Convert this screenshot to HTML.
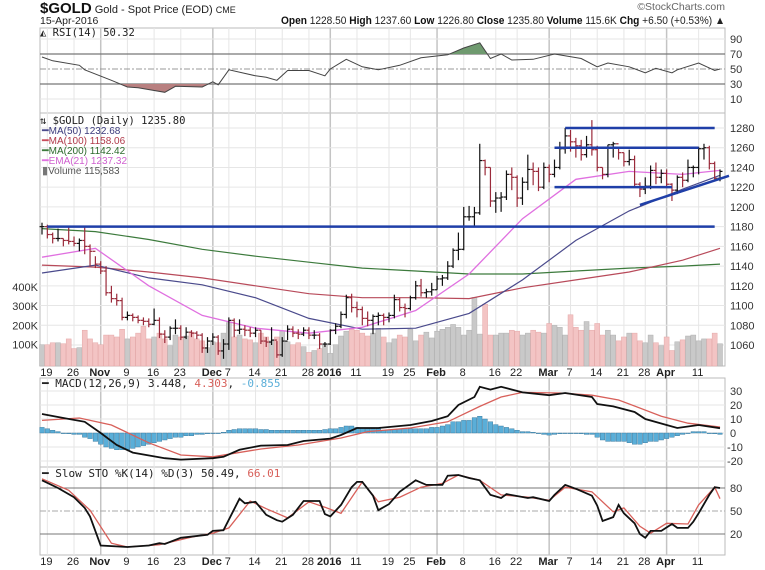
<!DOCTYPE html>
<html><head><meta charset="utf-8">
<style>
html,body{margin:0;padding:0;background:#fff;width:765px;height:570px;overflow:hidden}
svg{display:block;font-family:"Liberation Sans",sans-serif}
</style></head>
<body>
<svg id="c" width="765" height="570" viewBox="0 0 765 570" xmlns="http://www.w3.org/2000/svg"></svg>
<script>
// ---- data ----
const closes=[1180,1172,1168,1168,1166,1165,1163,1166,1160,1155,1142,
1135,1113,1107,1105,1088,1090,1088,1085,1084,1081,1085,1071,1068,1077,1077,1068,1073,1072,1070,1057,1064,
1068,1054,1061,1085,1075,1076,1075,1072,1075,1064,1063,1065,1050,1064,1076,1072,1071,1075,1070,1070,1061,1061,
1075,1079,1091,1108,1098,1096,1087,1085,1089,1090,1088,1090,1106,1098,1097,1108,1120,1113,1114,1116,
1127,1128,1140,1156,1157,1190,1190,1194,1247,1240,1206,1209,1210,1233,1230,1209,1225,1238,1236,1220,1240,
1233,1240,1259,1272,1266,1262,1253,1263,1258,1240,1233,1263,1264,1255,1246,1248,1223,1218,1221,1237,1230,1234,
1223,1217,1230,1227,1240,1240,1259,1260,1244,1229,1236];
const highs=[1184,1182,1174,1178,1168,1180,1170,1168,1180,1162,1150,
1145,1140,1120,1112,1108,1094,1092,1090,1088,1087,1097,1088,1075,1079,1086,1080,1078,1075,1074,1072,1068,
1072,1070,1066,1088,1087,1086,1080,1078,1078,1075,1068,1078,1064,1068,1080,1079,1076,1078,1078,1075,1072,1063,
1076,1082,1094,1111,1112,1104,1099,1094,1091,1093,1092,1093,1111,1108,1102,1110,1125,1127,1117,1123,
1130,1131,1145,1158,1174,1200,1201,1200,1264,1248,1240,1215,1215,1237,1240,1232,1230,1253,1245,1240,1245,
1243,1248,1266,1280,1278,1270,1268,1272,1288,1262,1240,1263,1266,1260,1255,1258,1252,1225,1230,1242,1245,1238,
1238,1224,1232,1235,1248,1242,1261,1264,1262,1246,1238];
const lows=[1172,1168,1163,1165,1160,1162,1160,1155,1152,1140,1138,
1132,1110,1103,1100,1085,1085,1084,1082,1080,1078,1080,1067,1062,1065,1071,1065,1066,1068,1066,1052,1052,
1060,1050,1046,1055,1068,1071,1069,1068,1068,1061,1058,1060,1047,1048,1065,1068,1066,1069,1066,1066,1056,1058,
1060,1071,1077,1087,1093,1088,1080,1079,1071,1080,1080,1083,1087,1094,1088,1095,1106,1109,1108,1110,
1116,1120,1126,1138,1146,1156,1186,1181,1192,1232,1200,1194,1195,1207,1217,1200,1202,1217,1222,1216,1218,
1225,1230,1238,1254,1256,1250,1247,1250,1252,1236,1228,1230,1250,1248,1241,1242,1220,1210,1213,1218,1223,1224,
1220,1206,1213,1220,1225,1230,1233,1248,1238,1227,1226];
const volumes=[100,100,110,110,105,130,80,85,175,130,110,
100,150,150,140,180,130,140,160,195,130,140,160,130,95,150,140,145,165,130,120,85,
115,110,160,215,140,150,130,125,110,160,140,120,140,170,115,100,110,90,60,70,80,100,
55,100,145,170,180,175,160,145,160,185,140,110,130,150,140,180,120,150,165,135,
170,180,190,205,190,150,175,345,155,310,150,150,160,160,175,170,150,160,175,165,160,
210,200,190,150,255,190,175,220,175,210,150,175,150,120,140,160,160,120,110,150,110,95,
140,70,115,125,145,150,120,130,130,160,105];
const maBars=[0,10,20,30,40,50,60,70,80,90,100,110,120,127];
const ma50=[1133,1141,1128,1121,1108,1087,1076,1077,1092,1126,1166,1196,1218,1232];
const ma100=[1141,1139,1134,1128,1120,1112,1108,1108,1107,1118,1126,1134,1146,1158];
const ma200=[1178,1175,1167,1157,1150,1144,1138,1135,1132,1132,1135,1138,1140,1142];
const ema21=[1149,1158,1120,1090,1077,1072,1078,1095,1132,1188,1228,1236,1233,1237];
const rsiBars=[0,2,7,8,13,16,18,23,25,30,32,33,35,40,42,44,46,50,53,54,57,60,63,67,71,76,79,82,84,86,88,92,96,101,104,106,110,113,115,118,119,123,126,127];
const rsiVals=[66,61,55,49,35,26,25,19,27,26,33,29,49,41,39,35,48,48,41,50,63,53,49,55,65,69,78,85,64,70,62,63,70,64,53,58,53,45,51,45,49,58,48,50];
const macdBars=[0,4,8,11,14,17,23,26,32,34,37,41,46,49,54,56,59,63,69,73,76,78,81,82,84,86,90,95,98,103,104,107,111,113,117,119,123,127];
const macdVals=[13.6,10.7,8,0,-8.6,-14,-18,-19,-18,-17,-12,-9,-8.6,-5.7,-4,-1.4,3.6,3.6,5.7,8.6,12,20,25.7,33,31,33,29,27,28.6,25.7,20.7,19,15,10,5.7,3.6,5.7,3.4];
const signalBars=[0,7,13,20,26,32,41,48,56,61,69,76,82,86,90,97,103,108,116,121,127];
const signalVals=[9,10.7,5.7,-7,-15.7,-17,-11.4,-8.6,-3.6,1,3.6,8,19,25.7,29,28.6,27,23.6,12,7,4.3];
const histVals=[4,3,2,1,0,-0.5,-1,-1,-3,-4,-6,-8,-10,-11,-12,-12,-12,-11,-10,-9,-8,-7,-6,-5,-4,-3,-3,-2,-2,-1,-1,-0.5,0,0,0.5,2,2.5,3,3,3,3,2.5,2.5,2,2,2,2,2,2,2,2,2,2,2.5,3,3,4,5,5,4,3.5,3,3,3,
2,2,2.5,3,3,3,3,3,3,4,4,5,6,8,8,9,9,11,12,10,8,6,5,4,3,2,1,1,0.5,0,-1,-1.5,-1,-0.5,0,0,0,-0.5,-1,-1,-3,-5,-6,-6,-6,-6,-7,-8,-8,-7,-6,-6,-5,-4,-3,-2,-1,0,1,1,1,0,-0.5,-1];
const kBars=[0,3,6,8,9,11,16,20,22,23,26,31,32,34,37,38,40,42,44,45,47,49,52,53,54,56,58,59,60,62,63,65,67,70,72,75,76,78,80,82,84,86,87,91,92,95,96,98,100,101,103,104,105,107,108,109,111,112,113,114,116,118,119,121,122,123,125,126,127];
const kVals=[90,80,68,54,43,5,3,5,8,7,15,19,24,25,66,60,62,45,38,36,45,63,63,46,43,58,81,88,88,70,51,59,75,90,84,84,96,97,93,90,71,67,72,67,68,63,71,84,79,76,70,57,37,42,58,47,34,20,15,24,24,33,28,28,36,47,71,81,80];
const kLast=[50.49];
const dBars=[0,5,9,13,16,22,28,32,35,39,42,46,50,53,56,60,63,67,71,75,78,82,86,91,95,98,103,107,109,112,114,117,121,123,126,127];
const dVals=[92,77,51,8,3,6,16,21,28,63,53,41,62,55,47,88,62,68,81,86,97,90,71,68,64,81,75,49,54,30,21,34,33,58,81,66];
const xTicks=["19","26","Nov","9","16","23","Dec","7","14","21","28","2016","11","19","25","Feb","8","16","22","Mar","7","14","21","28","Apr","11"];
const xTickBars=[1,6,11,16,21,26,32,35,40,45,50,54,59,65,69,74,79,85,89,95,99,104,109,113,117,123];
const priceTicks=[1280,1260,1240,1220,1200,1180,1160,1140,1120,1100,1080,1060];
const volTicks=[100,200,300,400];
const rsiTicks=[90,70,50,30,10];
const macdTicks=[30,20,10,0,-10,-20];
const stoTicks=[80,50,20];

// ---- scales ----
const N=closes.length, L=40, R=725;
const xOf=i=>42+i*678/(N-1);
const yP=p=>128+(1280-p)*0.9864;
const yV=v=>364-v*0.193;
const yR=v=>69-(v-50)*0.75;
const yM=v=>433-v*1.4;
const yS=v=>511-(v-50)*0.767;
const svg=document.getElementById('c');
const NS='http://www.w3.org/2000/svg';
function mk(tag,attrs,parent){const e=document.createElementNS(NS,tag);for(const k in attrs)e.setAttribute(k,attrs[k]);(parent||svg).appendChild(e);return e;}
function txt(s,x,y,attrs,parent){const t=mk('text',Object.assign({x:x,y:y,'font-size':11,fill:'#222'},attrs||{}),parent);t.textContent=s;return t;}
function poly(bars,vals,fy,attrs,name){const pts=bars.map((b,k)=>xOf(b).toFixed(1)+','+fy(vals[k]).toFixed(1)).join(' ');const p=mk('polyline',Object.assign({points:pts,fill:'none'},attrs));

return p;}

// panels
const panels=[[28,113,'rsi-panel'],[113,366,'price-panel'],[378,467,'macd-panel'],[467,555,'sto-panel']];
panels.forEach(pn=>{const r=mk('rect',{x:L,y:pn[0],width:R-L,height:pn[1]-pn[0],fill:'#fff',stroke:'#bbb','stroke-width':1});

});

// vertical grid
xTickBars.forEach((b,k)=>{const isM=/[A-Za-z]|2016/.test(xTicks[k]);panels.forEach(pn=>{const l=mk('line',{x1:xOf(b),x2:xOf(b),y1:pn[0],y2:pn[1],stroke:isM?'#c4c4c4':'#e6e6e6','stroke-width':isM?1.5:1});

});});
// horizontal grids
priceTicks.forEach(p=>{const l=mk('line',{x1:L,x2:R,y1:yP(p),y2:yP(p),stroke:'#e6e6e6'});


const t=txt(String(p),730,yP(p)+4,{'font-size':11,fill:'#333'});

});
rsiTicks.forEach(v=>{const st=(v==70||v==30)?'#777':(v==50?'#999':'#e6e6e6');const l=mk('line',{x1:L,x2:R,y1:yR(v),y2:yR(v),stroke:st,'stroke-dasharray':v==50?'6,2,2,2':'none','stroke-width':(v==70||v==30)?1.2:1});


const t=txt(String(v),730,yR(v)+4,{fill:'#333'});

});
macdTicks.forEach(v=>{const l=mk('line',{x1:L,x2:R,y1:yM(v),y2:yM(v),stroke:'#e6e6e6'});


const t=txt(String(v),v<0?727:730,yM(v)+4,{fill:'#333'});

});
stoTicks.forEach(v=>{const l=mk('line',{x1:L,x2:R,y1:yS(v),y2:yS(v),stroke:v==50?'#aaa':'#777','stroke-dasharray':v==50?'6,2,2,2':'none','stroke-width':1.1});


const t=txt(String(v),730,yS(v)+4,{fill:'#333'});

});
volTicks.forEach(v=>{const t=txt(v+'K',38,yV(v)+4,{'text-anchor':'end',fill:'#333'});

});

// x labels
xTickBars.forEach((b,k)=>{const isM=/[A-Za-z]|2016/.test(xTicks[k]);[372,561].forEach(y=>{const t=txt(xTicks[k],xOf(b)-1,y+4,{'text-anchor':'middle','font-weight':isM?'bold':'normal',fill:'#222'});

});});

// RSI fills
(function(){
 const pts=rsiBars.map((b,k)=>[xOf(b),yR(rsiVals[k])]);
 const clipA=mk('clipPath',{id:'ca'});mk('rect',{x:L,y:0,width:R-L,height:yR(70)},clipA);
 const clipB=mk('clipPath',{id:'cb'});mk('rect',{x:L,y:yR(30),width:R-L,height:40},clipB);
 const top='M'+pts.map(p=>p[0].toFixed(1)+','+p[1].toFixed(1)).join('L');
 const f1=mk('path',{d:top+'L'+pts[pts.length-1][0]+','+yR(70)+'L'+pts[0][0]+','+yR(70)+'Z',fill:'#6f9a6f','clip-path':'url(#ca)'});
 
 
 const f2=mk('path',{d:top+'L'+pts[pts.length-1][0]+','+yR(30)+'L'+pts[0][0]+','+yR(30)+'Z',fill:'#b88080','clip-path':'url(#cb)'});
 
 
})();
poly(rsiBars,rsiVals,yR,{stroke:'#444','stroke-width':1},'rsi-line');

// volume
volumes.forEach((v,i)=>{const up=i==0||closes[i]>=closes[i-1];const r=mk('rect',{x:xOf(i)-2.5,y:yV(v),width:5,height:364-yV(v)+2,fill:up?'#c9c9c9':'#f3c4c4',stroke:up?'#b0b0b0':'#e4a8a8','stroke-width':0.5});

});

// MAs
poly(maBars,ma200,yP,{stroke:'#3c7a3c','stroke-width':1.2},'ma200-line');
poly(maBars,ma100,yP,{stroke:'#b84a5a','stroke-width':1.2},'ma100-line');
poly(maBars,ma50,yP,{stroke:'#4a4a8c','stroke-width':1.2},'ma50-line');
poly(maBars,ema21,yP,{stroke:'#e070e0','stroke-width':1.3},'ema21-line');

// price bars
closes.forEach((c,i)=>{const up=i==0||c>=closes[i-1];const col=up?'#111':'#9a2a3a';const o=i==0?c:closes[i-1];const x=xOf(i);
const g=mk('g',{stroke:col,'stroke-width':1.2});


mk('line',{x1:x,x2:x,y1:yP(highs[i]),y2:yP(lows[i])},g);
mk('line',{x1:x-2.5,x2:x,y1:yP(o),y2:yP(o)},g);
mk('line',{x1:x,x2:x+2.5,y1:yP(c),y2:yP(c)},g);});

// annotation lines
[[1180,1,126],[1280,98,126],[1260,96,123],[1220,96,118]].forEach(a=>{const l=mk('line',{x1:xOf(a[1]),x2:xOf(a[2]),y1:yP(a[0]),y2:yP(a[0]),stroke:'#1f3fa8','stroke-width':2.5});

});
const tl=mk('line',{x1:xOf(112),y1:yP(1202),x2:729,y2:yP(1231.5),stroke:'#1f3fa8','stroke-width':2.5});



// MACD
histVals.forEach((v,i)=>{const y0=yM(0),y1=yM(v);const r=mk('rect',{x:xOf(i)-2.3,y:Math.min(y0,y1),width:4.6,height:Math.max(0.6,Math.abs(y1-y0)),fill:'#5aaed8',stroke:'#2f6f94','stroke-width':0.4});

});
poly(signalBars,signalVals,yM,{stroke:'#d8605a','stroke-width':1.3},'macd-signal-line');
poly(macdBars,macdVals,yM,{stroke:'#111','stroke-width':1.8},'macd-line');

// STO
poly(dBars,dVals,yS,{stroke:'#d8605a','stroke-width':1.3},'sto-d-line');
poly(kBars,kVals,yS,{stroke:'#111','stroke-width':1.8},'sto-k-line');

// legends & header
function lg(parts,x,y,name,mono,extra){const t=mk('text',Object.assign({x:x,y:y,'font-size':11,'font-family':mono?'"DejaVu Sans Mono","Liberation Mono",monospace':'"Liberation Sans",sans-serif'},extra||{}));


parts.forEach(p=>{const s=mk('tspan',{fill:p[1]||'#222','font-weight':p[2]||'normal','font-size':p[3]||11},t);s.textContent=p[0];});return t;}
lg([['$GOLD','#111','bold',15],[' Gold - Spot Price (EOD) ','#222','normal',11],['CME','#222','normal',9]],40,13,'chart-title');
lg([['15-Apr-2016','#222','normal',10.5]],40,24,'chart-date');
lg([['Open','#111','bold',11],[' 1228.50 '],['High','#111','bold',11],[' 1237.60 '],['Low','#111','bold',11],[' 1226.80 '],['Close','#111','bold',11],[' 1235.80 '],['Volume','#111','bold',11],[' 115.6K '],['Chg','#111','bold',11],[' +6.50 (+0.53%) ▲']],281,24,'ohlc-summary',false,{textLength:444,lengthAdjust:'spacingAndGlyphs'});
lg([['©StockCharts.com','#666','normal',10.5]],725,10,'watermark',false,{'text-anchor':'end'});
lg([['◭ RSI(14) 50.32','#222','normal',10.5]],40,36,'rsi-legend',true);
lg([['⇅ $GOLD (Daily) 1235.80','#222','normal',10.5]],40,124,'price-legend',true);
lg([['━','#4a4a8c'],['MA(50) 1232.68','#3a3a7c','normal',10]],42,134,'ma50-legend');
lg([['━','#c84a5a'],['MA(100) 1158.06','#b03a4a','normal',10]],42,144,'ma100-legend');
lg([['━','#3c7a3c'],['MA(200) 1142.42','#2c6a2c','normal',10]],42,154,'ma200-legend');
lg([['━','#e070e0'],['EMA(21) 1237.32','#d060d0','normal',10]],42,164,'ema21-legend');
lg([['▮','#777'],['Volume 115,583','#555','normal',10]],42,174,'volume-legend');
lg([['━ MACD(12,26,9) 3.448, ','#222'],['4.303','#d8605a'],[', ','#222'],['-0.855','#5aaed8']],42,387,'macd-legend',true);
lg([['━ Slow STO %K(14) %D(3) '+kLast[0]+', ','#222'],['66.01','#d8605a']],42,477,'sto-legend',true);
</script>
</body></html>
